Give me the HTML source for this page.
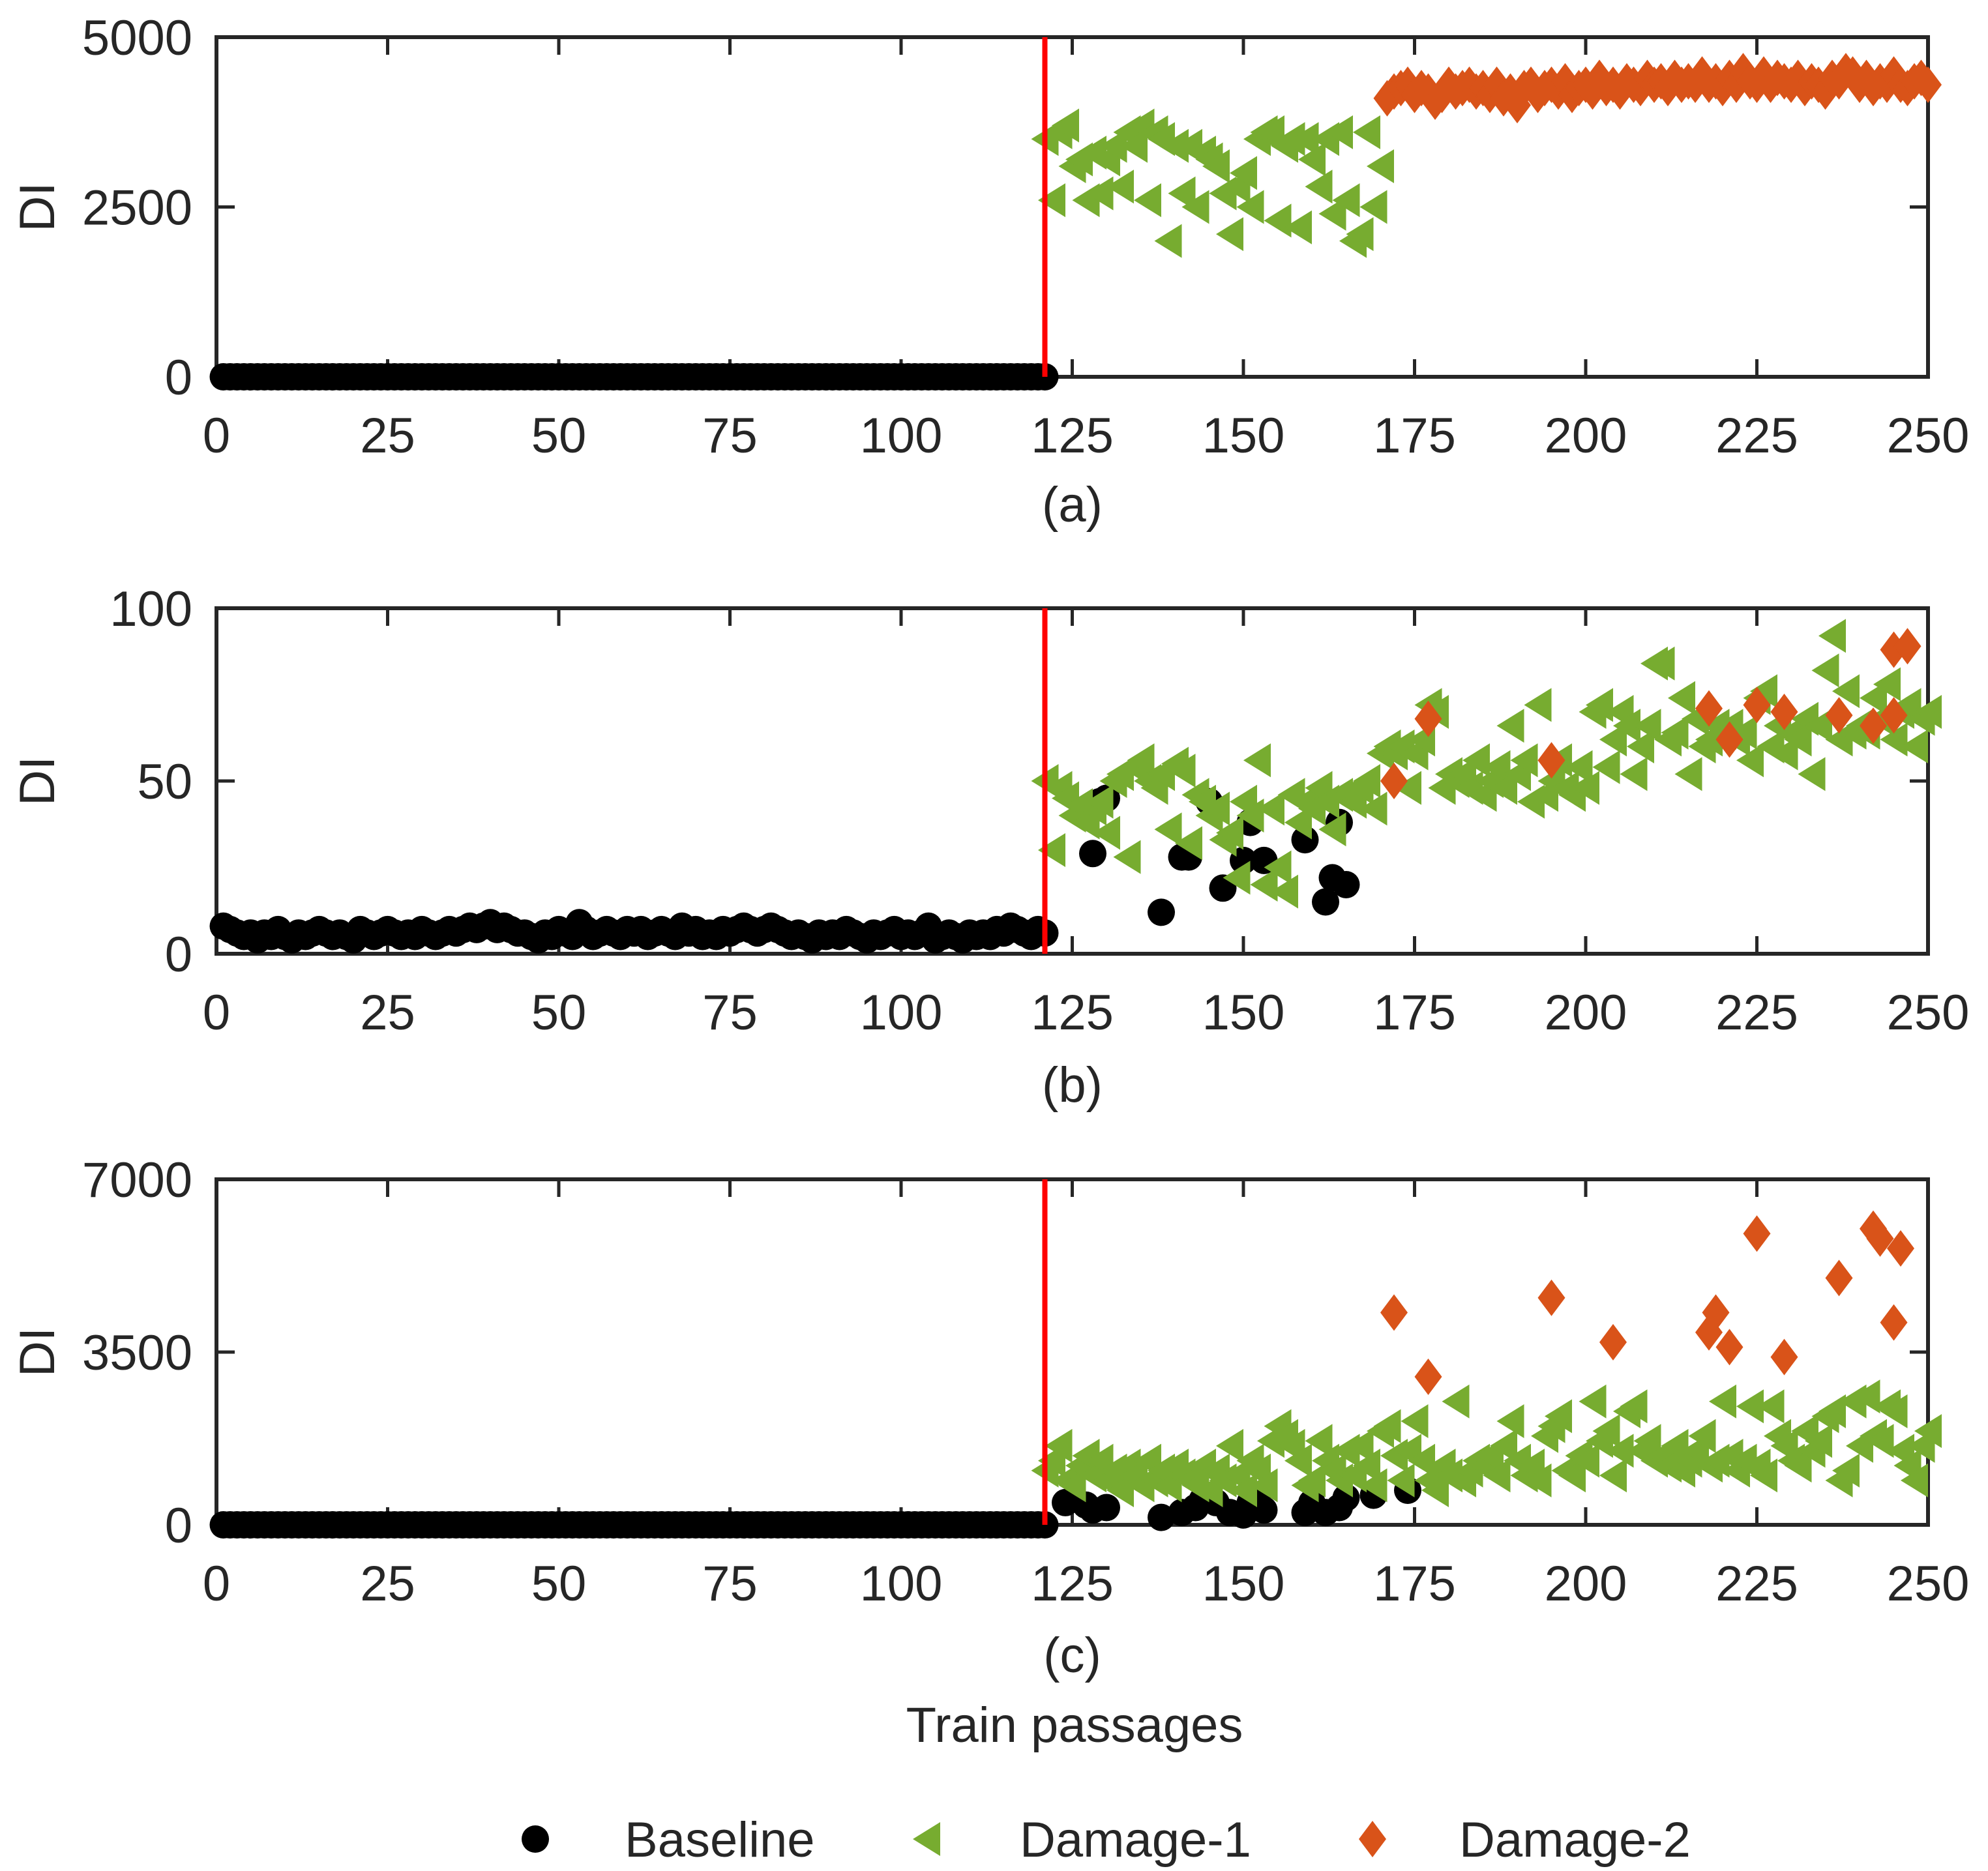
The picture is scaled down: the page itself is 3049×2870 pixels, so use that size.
<!DOCTYPE html>
<html><head><meta charset="utf-8"><style>
html,body{margin:0;padding:0;background:#fff}
svg{display:block}
text{font-family:"Liberation Sans Narrow","Liberation Sans",Arial,sans-serif;fill:#262626}
</style></head><body>
<svg id="chart" width="3049" height="2870" viewBox="0 0 3049 2870" xmlns="http://www.w3.org/2000/svg"></svg>
<script>
const xTicks=[0,25,50,75,100,125,150,175,200,225,250];
const aTicks=[0,2500,5000];
const bTicks=[0,50,100];
const cTicks=[0,3500,7000];
const damageStart=121;
const aD1=[3500,2600,3600,3700,3100,3200,2600,3300,2700,3200,3400,2800,3600,3400,3700,2600,3600,3500,2000,3400,2700,3400,2500,3300,3200,3100,2700,2100,2800,3000,2500,3500,3600,3600,2300,3400,3500,2200,3500,3200,2800,3500,2400,3600,2600,2000,2100,3600,2500,3100];
const aD2=[4100,4200,4250,4300,4150,4250,4200,4050,4150,4300,4200,4250,4300,4200,4250,4150,4300,4100,4200,4000,4250,4300,4150,4250,4300,4200,4350,4150,4250,4300,4200,4400,4250,4300,4200,4350,4300,4250,4400,4300,4350,4250,4400,4300,4350,4300,4450,4300,4350,4250,4400,4300,4500,4350,4300,4450,4300,4400,4350,4300,4400,4250,4350,4300,4200,4400,4350,4500,4450,4300,4400,4250,4350,4300,4450,4300,4250,4350,4400,4300];
const bBase=[8,7,6,5,6,4,6,5,7,5,4,6,5,6,7,6,5,6,5,4,7,6,5,6,7,6,5,6,5,7,6,5,6,7,6,7,8,7,8,9,7,8,7,6,6,5,4,6,5,7,6,5,9,7,5,6,7,6,5,7,6,7,5,6,7,6,5,8,6,7,5,6,5,7,6,7,8,7,6,7,8,7,6,5,6,5,4,6,5,6,5,7,6,5,4,6,5,6,7,5,6,5,6,8,4,5,6,5,4,6,5,6,5,7,6,8,7,6,5,7,6];
const bBaseExtraX=[128,129,130,138,141,142,145,146,147,150,151,153,159,162,163,164,165];
const bBaseExtraY=[29,44,45,12,28,28,44,42,19,27,38,27,33,15,22,38,20];
const bD1=[50,30,48,45,40,43,38,42,44,35,50,52,28,54,56,50,48,52,36,55,53,32,46,44,40,42,33,35,22,44,40,56,20,42,25,18,46,38,44,42,48,44,36,46,46,44,48,50,42,58,60,58,60,48,58,62,72,70,48,52,50,52,48,56,46,50,54,48,66,52,56,44,72,46,50,56,48,46,54,48,70,72,54,62,70,66,52,60,66,84,84,62,64,74,52,68,60,62,66,64,66,62,64,56,74,76,60,66,58,64,62,68,52,66,82,92,62,76,64,66,64,74,68,78,62,70,72,60,68,70];
const bD2X=[172,177,195,218,221,225,229,237,242,245,245,247];
const bD2Y=[50,68,56,71,62,72,70,69,66,69,88,89];
const cBaseExtraX=[124,127,128,130,138,141,143,144,146,148,150,151,152,153,159,160,162,164,165,169,174];
const cBaseExtraY=[450,400,300,350,150,250,350,500,450,250,200,450,550,300,250,450,250,350,550,600,700];
const cD1=[1100,1300,1600,900,800,1200,1400,1000,1300,900,1100,700,1200,1000,800,1300,900,1100,800,1200,1000,900,800,1200,700,1100,900,1600,1000,700,1300,1100,800,1700,2000,1800,1600,1300,800,900,1700,1300,1100,900,1500,1000,1600,1200,800,1900,2000,1400,900,1500,2100,1300,900,700,1200,1000,2500,900,1100,1300,1200,1400,1000,1600,2100,1300,1000,1200,900,1800,2000,2200,1100,1000,1400,1300,2500,1700,1900,1000,1500,2300,2400,1500,1700,1300,1400,1200,1600,1100,1300,1500,1800,1200,1300,2500,1400,1100,1300,2400,1200,1000,2400,1800,1600,1300,1200,1900,1500,1700,2200,2300,900,1100,2500,1600,2600,1800,1700,2400,2300,1500,1200,900,1600,1900];
const cD2X=[172,177,195,204,218,219,221,225,229,237,242,243,245,246];
const cD2Y=[4300,3000,4600,3700,3900,4300,3600,5900,3400,5000,6000,5800,4100,5600];

const NS="http://www.w3.org/2000/svg";
const svg=document.getElementById('chart');
const X0=332,X1=2957;
function sx(v){return X0+(v-0)/(250-0)*(X1-X0);}
function mk(tag,attrs,parent){const e=document.createElementNS(NS,tag);for(const k in attrs)e.setAttribute(k,attrs[k]);(parent||svg).appendChild(e);return e;}
function circle(g,x,y){const e=mk('ellipse',{cx:x,cy:y,rx:21,ry:21,fill:'#000'},g);

}
function tri(g,x,y){const e=mk('polygon',{points:`${x-21},${y} ${x+21},${y-26} ${x+21},${y+26}`,fill:'#77AC30'},g);

}
function dia(g,x,y){const e=mk('polygon',{points:`${x},${y-28} ${x+21},${y} ${x},${y+28} ${x-21},${y}`,fill:'#D95319'},g);

}

function panel(name,top,bot,yTicks,label,labelY,series){
  const ymax=yTicks[yTicks.length-1];
  const sy=v=>bot-v/ymax*(bot-top);
  const g=mk('g',{});
  
  
  const box=mk('rect',{x:X0,y:top,width:X1-X0,height:bot-top,fill:'none',stroke:'#262626','stroke-width':6},g);
  
  
  xTicks.forEach(t=>{const x=sx(t);
    mk('line',{x1:x,y1:bot,x2:x,y2:bot-27,stroke:'#262626','stroke-width':5},g);
    mk('line',{x1:x,y1:top,x2:x,y2:top+27,stroke:'#262626','stroke-width':5},g);
    const tx=mk('text',{x:x,y:bot+116,'font-size':76,'text-anchor':'middle'},g);tx.textContent=t;
    
    });
  yTicks.forEach(t=>{const y=sy(t);
    mk('line',{x1:X0,y1:y,x2:X0+28,y2:y,stroke:'#262626','stroke-width':5},g);
    mk('line',{x1:X1,y1:y,x2:X1-28,y2:y,stroke:'#262626','stroke-width':5},g);
    const tx=mk('text',{x:295,y:y+27,'font-size':76,'text-anchor':'end'},g);tx.textContent=t;
    
    });
  const yl=mk('text',{x:0,y:0,'font-size':76,'text-anchor':'middle',transform:`translate(83,${(top+bot)/2}) rotate(-90)`},g);yl.textContent='DI';
  
  
  const cl=mk('text',{x:(X0+X1)/2,y:labelY,'font-size':76,'text-anchor':'middle'},g);cl.textContent=label;
  
  
  series(g,sy);
  const rl=mk('line',{x1:sx(damageStart),y1:top,x2:sx(damageStart),y2:bot,stroke:'#FF0000','stroke-width':8},g);
  
  
}

panel('panel-a',57,578,aTicks,'(a)',800,(g,sy)=>{
  for(let i=1;i<=121;i++)circle(g,sx(i),sy(0));
  aD1.forEach((v,i)=>tri(g,sx(121+i),sy(v)));
  aD2.forEach((v,i)=>dia(g,sx(171+i),sy(v)));
});
panel('panel-b',933,1463,bTicks,'(b)',1690,(g,sy)=>{
  bBase.forEach((v,i)=>circle(g,sx(1+i),sy(v)));
  bBaseExtraX.forEach((x,i)=>circle(g,sx(x),sy(bBaseExtraY[i])));
  bD1.forEach((v,i)=>tri(g,sx(121+i),sy(v)));
  bD2X.forEach((x,i)=>dia(g,sx(x),sy(bD2Y[i])));
});
panel('panel-c',1809,2339,cTicks,'(c)',2565,(g,sy)=>{
  for(let i=1;i<=121;i++)circle(g,sx(i),sy(0));
  cBaseExtraX.forEach((x,i)=>circle(g,sx(x),sy(cBaseExtraY[i])));
  cD1.forEach((v,i)=>tri(g,sx(121+i),sy(v)));
  cD2X.forEach((x,i)=>dia(g,sx(x),sy(cD2Y[i])));
});

const xt=mk('text',{x:1648,y:2672,'font-size':76,'text-anchor':'middle'});xt.textContent='Train passages';



const lg=mk('g',{});


const ly=2821;
circle(lg,821,ly);
const l1=mk('text',{x:958,y:ly+27,'font-size':76},lg);l1.textContent='Baseline';


tri(lg,1421,ly);
const l2=mk('text',{x:1564,y:ly+27,'font-size':76},lg);l2.textContent='Damage-1';


dia(lg,2105,ly);
const l3=mk('text',{x:2238,y:ly+27,'font-size':76},lg);l3.textContent='Damage-2';


</script>
</body></html>
